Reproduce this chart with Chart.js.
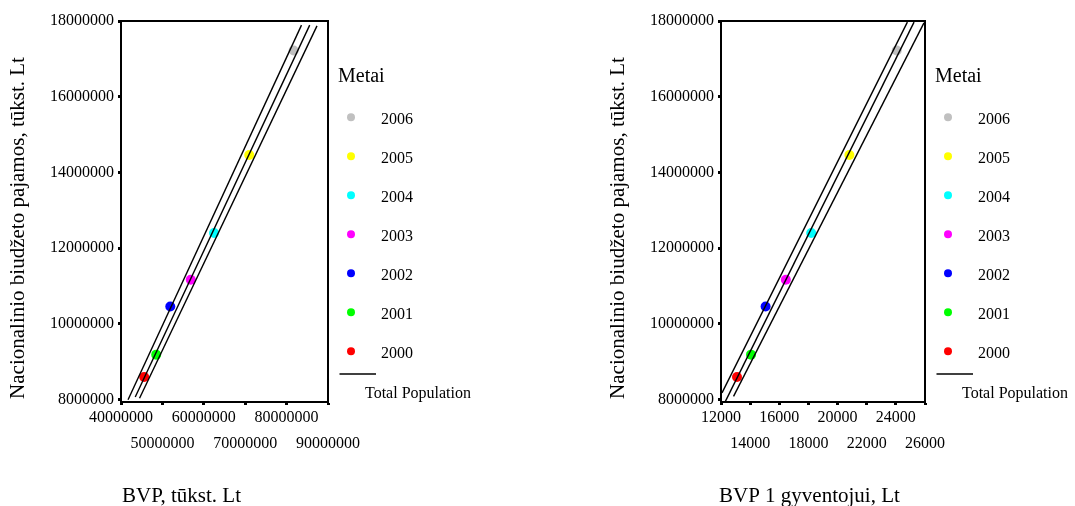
<!DOCTYPE html>
<html><head><meta charset="utf-8">
<script src="https://cdn.jsdelivr.net/npm/chart.js@4/dist/chart.umd.min.js"></script>
<style>
html,body{margin:0;padding:0;background:#fff;}
#wrap{position:relative;width:1075px;height:506px;background:#fff;}
canvas{position:absolute;left:0;top:0;}
</style></head><body>
<div id="wrap"><canvas id="c1" width="1075" height="506"></canvas><canvas id="c2" width="1075" height="506"></canvas></div>
<script>
// ---- data ----
const years = ['2000', '2001', '2002', '2003', '2004', '2005', '2006'];
const yearColors = ['#ff0000', '#00ff00', '#0000ff', '#ff00ff', '#00ffff', '#ffff00', '#c0c0c0'];
const budget = [8600000, 9190000, 10460000, 11170000, 12400000, 14460000, 17220000];
const gdp = [45600000, 48500000, 51900000, 56850000, 62470000, 70970000, 81700000];
const gdpPerCapita = [13100, 14060, 15060, 16450, 18190, 20810, 24060];

// fit line and band lines (end points)
const gdpLowX = [41700000, 83600000];  const gdpLowY = [8000000, 17890000];
const gdpFitX = [43440000, 85580000];  const gdpFitY = [8070000, 17890000];
const gdpHighX = [44480000, 87340000]; const gdpHighY = [8040000, 17870000];
const capLowX = [12070, 24790];  const capLowY = [8180000, 17970000];
const capFitX = [12300, 25250];  const capFitY = [7955000, 17970000];
const capHighX = [12860, 25930]; const capHighY = [8090000, 17950000];

const yTicks = [8000000, 10000000, 12000000, 14000000, 16000000, 18000000];
const gdpTicks = [40000000, 50000000, 60000000, 70000000, 80000000, 90000000];
const capTicks = [12000, 14000, 16000, 18000, 20000, 22000, 24000, 26000];

const yTitle = 'Nacionalinio biudžeto pajamos, tūkst. Lt';
const gdpTitle = 'BVP, tūkst. Lt';
const capTitle = 'BVP 1 gyventojui, Lt';
const legendTitle = 'Metai';
const lineLabel = 'Total Population';

// ---- drawing ----
const SERIF = '"Liberation Serif", "Times New Roman", serif';
Chart.defaults.color = '#000';

function pts(xs, ys) { return xs.map((x, i) => ({ x: x, y: ys[i] })); }

const decor = {
  id: 'decor',
  afterDraw(chart, args, o) {
    const ctx = chart.ctx, a = chart.chartArea;
    ctx.save();
    ctx.strokeStyle = '#000'; ctx.lineWidth = 2;
    ctx.strokeRect(a.left, a.top, a.right - a.left, a.bottom - a.top);
    ctx.fillStyle = '#000';
    ctx.font = '21px ' + SERIF;
    ctx.textAlign = 'center'; ctx.textBaseline = 'middle';
    ctx.save(); ctx.translate(a.left - 102.5, 228); ctx.rotate(-Math.PI / 2);
    ctx.fillText(yTitle, 0, 0); ctx.restore();
    ctx.textAlign = 'left';
    ctx.fillText(o.xTitle, o.xTitleX, 496);
    const lx = a.right;
    ctx.font = '20px ' + SERIF;
    ctx.fillText(legendTitle, lx + 10, 77);
    ctx.font = '16px ' + SERIF;
    for (let i = 0; i < years.length; i++) {
      const k = years.length - 1 - i;
      const y = 117.3 + 39 * i;
      ctx.fillStyle = yearColors[k];
      ctx.beginPath(); ctx.arc(lx + 23, y, 4, 0, Math.PI * 2); ctx.fill();
      ctx.fillStyle = '#000';
      ctx.fillText(years[k], lx + 53, y + 2);
    }
    ctx.beginPath(); ctx.moveTo(lx + 11.5, 374); ctx.lineTo(lx + 48, 374);
    ctx.lineWidth = 1.5; ctx.stroke();
    ctx.fillText(lineLabel, lx + 37, 394);
    ctx.restore();
  }
};

function makeChart(id, xs, xTicks, lines, padding, xTitle, xTitleX) {
  const datasets = lines.map(l => ({
    type: 'scatter', data: pts(l[0], l[1]), showLine: true, pointRadius: 0,
    borderColor: '#000', borderWidth: 1.4, backgroundColor: '#000', order: 0
  }));
  years.forEach((yr, i) => datasets.push({
    type: 'scatter', label: yr, data: [{ x: xs[i], y: budget[i] }],
    pointRadius: 5, pointBorderWidth: 0, backgroundColor: yearColors[i],
    borderColor: yearColors[i], order: 1
  }));
  return new Chart(document.getElementById(id), {
    type: 'scatter',
    data: { datasets },
    plugins: [decor],
    options: {
      responsive: false, animation: false, events: [],
      layout: { padding },
      plugins: { legend: { display: false }, tooltip: { enabled: false }, decor: { xTitle, xTitleX } },
      scales: {
        x: {
          type: 'linear', min: xTicks[0], max: xTicks[xTicks.length - 1],
          afterBuildTicks: s => { s.ticks = xTicks.map(v => ({ value: v })); },
          afterFit: s => { s.height = 104; },
          grid: { drawOnChartArea: false, drawTicks: true, tickLength: 3, tickWidth: 3, tickColor: '#000' },
          border: { display: true, color: '#000', width: 2 },
          ticks: {
            autoSkip: false, maxRotation: 0, minRotation: 0, padding: 0,
            font: { family: SERIF, size: 16, lineHeight: 1.6 }, color: '#000',
            callback: (v, i) => (i % 2 === 1 ? ['', String(v)] : String(v))
          }
        },
        y: {
          type: 'linear', min: 7940000, max: yTicks[yTicks.length - 1],
          afterBuildTicks: s => { s.ticks = yTicks.map(v => ({ value: v })); },
          afterFit: s => { s.width = 121; },
          grid: { drawOnChartArea: false, drawTicks: true, tickLength: 3, tickWidth: 3, tickColor: '#000' },
          border: { display: true, color: '#000', width: 2 },
          ticks: {
            padding: 4, font: { family: SERIF, size: 16 }, color: '#000',
            callback: v => String(v)
          }
        }
      }
    }
  });
}

makeChart('c1', gdp, gdpTicks,
  [[gdpLowX, gdpLowY], [gdpFitX, gdpFitY], [gdpHighX, gdpHighY]],
  { left: 0, top: 21, right: 747, bottom: 0 }, gdpTitle, 122);
makeChart('c2', gdpPerCapita, capTicks,
  [[capLowX, capLowY], [capFitX, capFitY], [capHighX, capHighY]],
  { left: 600, top: 21, right: 150, bottom: 0 }, capTitle, 719);
</script>
</body></html>
